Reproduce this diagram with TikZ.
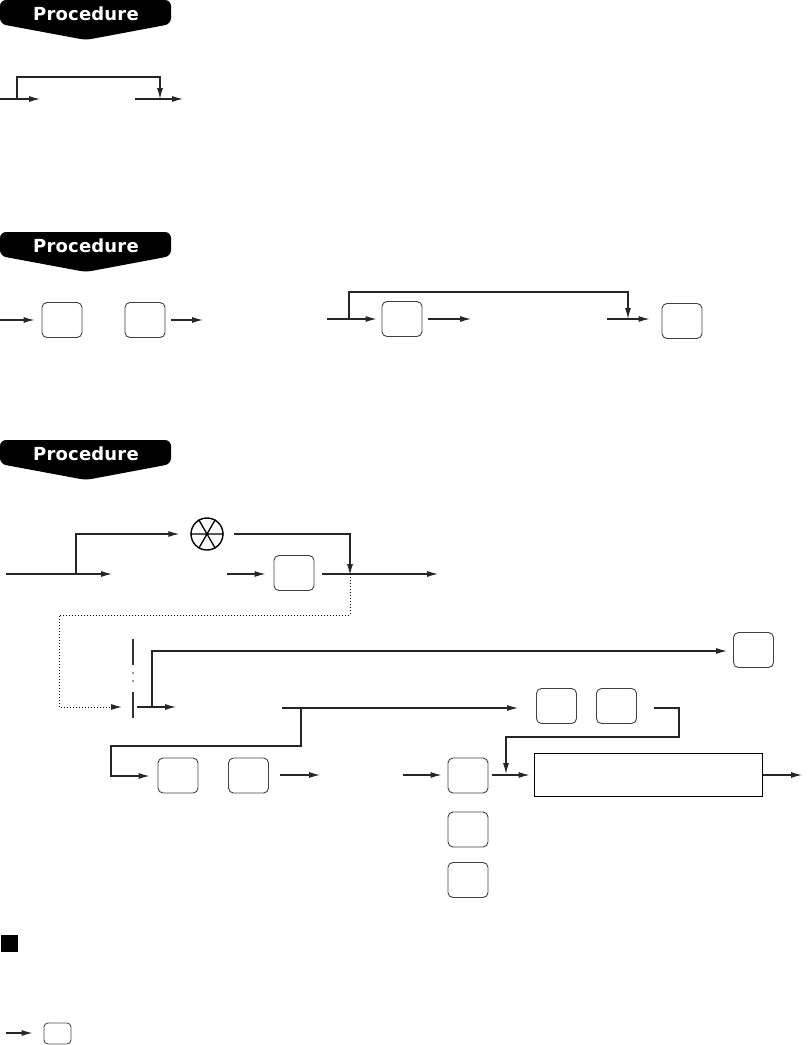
\documentclass[tikz,border=0pt]{standalone}
\usepackage{fontspec}
\usetikzlibrary{arrows.meta}
\newfontfamily\bannerfont[LetterSpace=1]{DejaVu Sans Bold}
\tikzset{
  ln/.style={line width=1.1pt, draw=black!85},
  arr/.style={ln, -{Latex[length=11pt,width=6pt]}},
  keybox/.style={draw=black!75, line width=0.9pt, rounded corners=5pt, minimum width=40pt, minimum height=35pt, inner sep=0pt},
  dots/.style={line width=1pt, dash pattern=on 1pt off 2pt},
  bannertext/.style={text=white, font=\bannerfont\fontsize{18}{18}\selectfont, inner sep=0pt},
}
\newcommand{\banner}[2]{%
  \fill[rounded corners=6pt] (86,#1+40) -- (0,#1+24) -- (0,#1) -- (171,#1) -- (171,#1+24) -- cycle;
  \node[bannertext] (#2) at (86,#1+13.5) {Procedure};
}
\begin{document}
\begin{tikzpicture}[x=1pt,y=-1pt]
\useasboundingbox (0,0) rectangle (811,1045);

% ---------- Section 1 ----------
\banner{0}{ban1}
\coordinate (a1) at (0,99);
\coordinate (a2) at (40,99);
\coordinate (a3) at (135,99);
\coordinate (a4) at (183,99);
\coordinate (aj) at (17,99);
\coordinate (am) at (160,99);
\coordinate (au) at (17,77);
\draw[arr] (a1) -- (a2);
\draw[arr] (a3) -- (a4);
\draw[arr] (aj) -- (au) -| (am);

% ---------- Section 2 ----------
\banner{232}{ban2}
\node[keybox] (k1) at (62,320) {};
\node[keybox] (k2) at (145,320) {};
\node[keybox] (k3) at (402,319) {};
\node[keybox] (k4) at (682,321) {};
\coordinate (b1) at (0,320);
\coordinate (b2) at (203,320);
\draw[arr] (b1) -- ([xshift=-7pt]k1.west);
\draw[arr] ([xshift=6pt]k2.east) -- (b2);
\coordinate (b3) at (327,319);
\coordinate (bj) at (349,319);
\coordinate (bu) at (349,292);
\coordinate (bm) at (628,319);
\coordinate (b4) at (471,319);
\coordinate (b5) at (607,319);
\draw[arr] (b3) -- ([xshift=-5pt]k3.west);
\draw[arr] (bj) -- (bu) -| (bm);
\draw[arr] ([xshift=6pt]k3.east) -- (b4);
\draw[arr] (b5) -- ([xshift=-12pt]k4.west |- b5);

% ---------- Section 3 ----------
\banner{440}{ban3}
\node[draw, circle, line width=1.4pt, minimum size=32pt, inner sep=0pt] (cir) at (207,534) {};
\draw[line width=1.3pt] (cir.west) -- (cir.east) (cir.60) -- (cir.240) (cir.120) -- (cir.300);
\node[keybox] (k5) at (294,573) {};
\node[keybox] (k6) at (753.5,650) {};
\node[keybox] (k7) at (556.5,706) {};
\node[keybox] (k8) at (616.5,706) {};
\node[keybox] (k9) at (178,775.5) {};
\node[keybox] (k10) at (248.5,775.5) {};
\node[keybox] (k11) at (468,775.5) {};
\node[keybox] (k12) at (468,829.5) {};
\node[keybox] (k13) at (468,880) {};
\node[draw, line width=1pt, minimum width=228pt, minimum height=43pt, inner sep=0pt] (r1) at (648,774.5) {};

\coordinate (c1) at (6,574);
\coordinate (c2) at (112,574);
\coordinate (cj) at (76,574);
\coordinate (cu) at (76,534);
\draw[arr] (c1) -- (c2);
\draw[arr] (cj) -- (cu) -- ([xshift=-11pt]cir.west);
\coordinate (cm) at (350,574);
\coordinate (cr) at (234,534);
\draw[arr] (cr) -| ([yshift=-1pt]cm);
\coordinate (c3) at (227,574);
\draw[arr] (c3) -- ([xshift=-8pt]k5.west |- c3);
\coordinate (c4) at (438,574);
\draw[arr] ([xshift=8pt]k5.east |- c4) -- (c4);

% dotted return
\coordinate (d1) at (350,615);
\coordinate (d2) at (59,615);
\coordinate (d3) at (59,707);
\coordinate (d5) at (111,707);
\coordinate (d4) at (122,707);
\draw[dots] (cm) -- (d1) -- (d2) -- (d3) -- (d5);
\draw[arr] (d5) -- (d4);

% separator
\coordinate (s1) at (133,639);
\coordinate (s2) at (133,665);
\coordinate (s3) at (133,692);
\coordinate (s4) at (133,718);
\draw[line width=1.1pt, draw=black!80] (s1) -- (s2) (s3) -- (s4);
\fill[black!80] (133,673) circle (0.8pt) (133,681) circle (0.8pt);

% row after separator
\coordinate (e1) at (137,707);
\coordinate (e2) at (176,707);
\coordinate (ej) at (152,707);
\coordinate (eu) at (152,651);
\draw[arr] (e1) -- (e2);
\draw[arr] (ej) -- (eu) -- ([xshift=-6pt]k6.west |- eu);

\coordinate (f1) at (282,708);
\coordinate (f2) at (518,708);
\coordinate (fj) at (301,708);
\coordinate (fd) at (301,746);
\coordinate (fl) at (111,746);
\coordinate (fb) at (111,776);
\draw[arr] (f1) -- (f2);
\draw[arr] (fj) -- (fd) -- (fl) -- (fb) -- ([xshift=-8pt]k9.west |- fb);

\coordinate (g1) at (280,775);
\coordinate (g2) at (320,775);
\draw[arr] (g1) -- (g2);

\coordinate (h1) at (654,708);
\coordinate (h2) at (679,708);
\coordinate (h3) at (679,737);
\coordinate (h4) at (506,737);
\coordinate (h5) at (506,774);
\draw[arr] (h1) -- (h2) -- (h3) -- (h4) -- (h5);

\coordinate (i1) at (403,775);
\draw[arr] (i1) -- ([xshift=-6pt]k11.west |- i1);
\draw[arr] ([xshift=4pt]k11.east |- i1) -- ([xshift=-4pt]r1.west |- i1);
\coordinate (i2) at (802,775);
\draw[arr] (r1.east |- i2) -- (i2);

% ---------- bottom ----------
\fill (1,935) rectangle (18,952);
\node[draw=black!70, line width=0.9pt, rounded corners=4pt, minimum width=27pt, minimum height=21pt, inner sep=0pt] (k14) at (57.5,1033.5) {};
\coordinate (j1) at (6,1033);
\draw[arr] (j1) -- ([xshift=-11pt]k14.west |- j1);
\end{tikzpicture}
\end{document}
